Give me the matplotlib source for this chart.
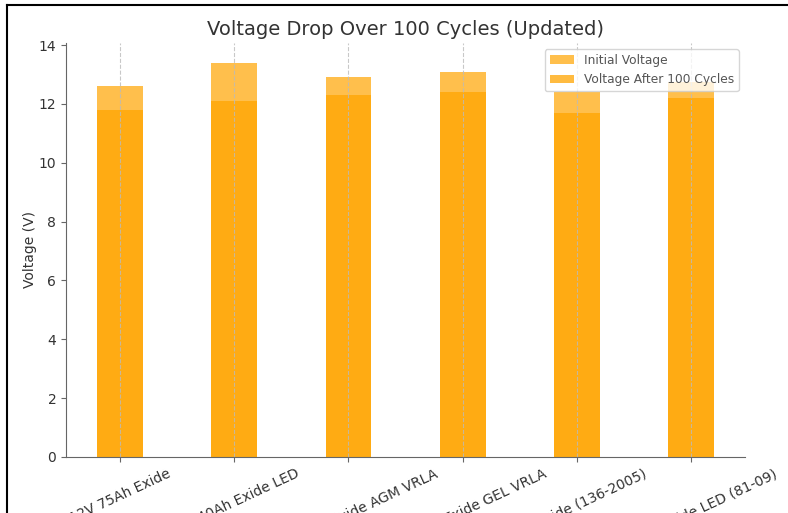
import numpy as np
import matplotlib
matplotlib.use("Agg")
import matplotlib.pyplot as plt
from matplotlib.lines import Line2D

# Battery models and measured voltages
battery_models = [
    "12V 75Ah Exide",
    "12V 40Ah Exide LED",
    "12V 100Ah Exide AGM VRLA",
    "12V 65Ah Exide GEL VRLA",
    "12V Exide (136-2005)",
    "12V 9Ah Exide LED (81-09)",
]
initial_voltage = [12.6, 13.4, 12.9, 13.1, 12.4, 12.75]
voltage_after_100 = [11.8, 12.1, 12.3, 12.4, 11.7, 12.2]


def main():
    fig = plt.figure(figsize=(7.88, 5.13), dpi=100)
    ax = fig.add_axes([0.0838, 0.1092, 0.8617, 0.807])

    x = np.arange(len(battery_models))
    width = 0.4

    ax.bar(x, initial_voltage, width, color="orange", alpha=0.7,
           label="Initial Voltage")
    ax.bar(x, voltage_after_100, width, color="orange", alpha=0.75,
           label="Voltage After 100 Cycles")

    ax.set_title("Voltage Drop Over 100 Cycles (Updated)", fontsize=14,
                 color="#333333")
    ax.set_ylabel("Voltage (V)", fontsize=10, color="#333333", labelpad=1)
    ax.set_xticks(x)
    ax.set_xticklabels(battery_models, rotation=25, ha="center",
                       fontsize=10, color="#333333")
    ax.tick_params(axis="y", labelsize=10, labelcolor="#333333", color="#666666")
    ax.tick_params(axis="x", color="#666666")

    # vertical dashed grid only
    ax.grid(axis="x", linestyle="--", color="#bbbbbb", linewidth=0.8, alpha=0.8)

    for side in ["top", "right"]:
        ax.spines[side].set_visible(False)
    for side in ["left", "bottom"]:
        ax.spines[side].set_color("#666666")

    ax.legend(loc="upper right", fontsize=8.8, labelcolor="#555555")

    # screenshot border on left and top
    fig.add_artist(Line2D([7 / 788, 7 / 788], [0, 1 - 5 / 513],
                          color="black", linewidth=1.5))
    fig.add_artist(Line2D([7 / 788, 1], [1 - 5 / 513, 1 - 5 / 513],
                          color="black", linewidth=1.5))

    fig.savefig("out.png", dpi=100)
    plt.close(fig)


if __name__ == "__main__":
    main()
